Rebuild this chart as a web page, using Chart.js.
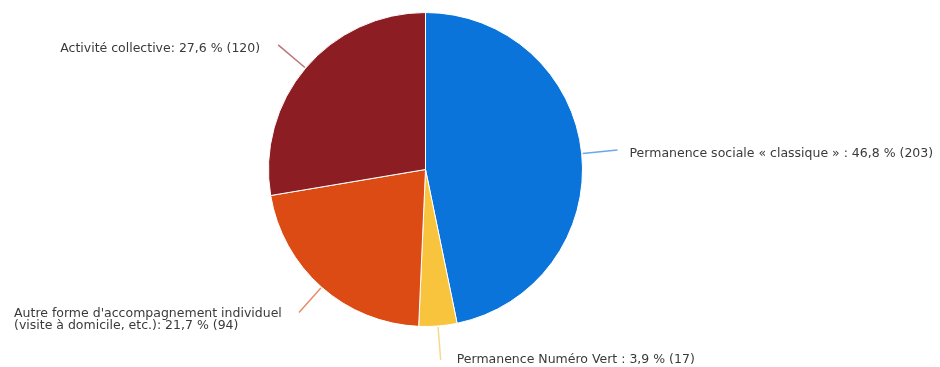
<!DOCTYPE html>
<html>
<head>
<meta charset="utf-8">
<script src="https://cdn.jsdelivr.net/npm/chart.js@4"></script>
<style>
  html, body { margin: 0; padding: 0; background: #fff; }
  #wrap { width: 940px; height: 367px; }
</style>
</head>
<body>
<div id="wrap"><canvas id="myChart" width="940" height="367"></canvas></div>
<script>
// data
const categories = [
  'Permanence sociale « classique »',
  'Permanence Numéro Vert',
  "Autre forme d'accompagnement individuel (visite à domicile, etc.)",
  'Activité collective'
];
const counts = [203, 17, 94, 120];
const percents = ['46,8', '3,9', '21,7', '27,6'];
const labelLines = [
  ['Permanence sociale « classique » : 46,8 % (203)'],
  ['Permanence Numéro Vert : 3,9 % (17)'],
  ["Autre forme d'accompagnement individuel", '(visite à domicile, etc.): 21,7 % (94)'],
  ['Activité collective: 27,6 % (120)']
];

const colors = ['#0b74da', '#f8c33d', '#dd4b14', '#8c1d23'];
const lineColors = ['#6aa9e6', '#f6d98c', '#e98c67', '#b9767a'];

// leader line length and text placement relative to the line end
const labelLayout = [
  { len: 36, dx: 12, dy: 4, align: 'left' },
  { len: 34, dx: 16, dy: 0, align: 'left' },
  { len: 34, dx: -285, dy: 7, align: 'left' },
  { len: 36, dx: -18, dy: 4, align: 'right' }
];

const leaderLabels = {
  id: 'leaderLabels',
  afterDatasetsDraw(chart) {
    const ctx = chart.ctx;
    const meta = chart.getDatasetMeta(0);
    ctx.save();
    ctx.font = '12.5px "DejaVu Sans", sans-serif';
    ctx.textBaseline = 'middle';
    meta.data.forEach((arc, i) => {
      const p = arc.getProps(['x', 'y', 'startAngle', 'endAngle', 'outerRadius'], true);
      const mid = (p.startAngle + p.endAngle) / 2;
      const lay = labelLayout[i];
      const x0 = p.x + Math.cos(mid) * (p.outerRadius + 1);
      const y0 = p.y + Math.sin(mid) * (p.outerRadius + 1);
      const x1 = p.x + Math.cos(mid) * (p.outerRadius + lay.len);
      const y1 = p.y + Math.sin(mid) * (p.outerRadius + lay.len);
      ctx.strokeStyle = lineColors[i];
      ctx.lineWidth = 1.5;
      ctx.beginPath();
      ctx.moveTo(x0, y0);
      ctx.lineTo(x1, y1);
      ctx.stroke();
      ctx.fillStyle = '#3a3a3a';
      ctx.textAlign = lay.align;
      const lines = labelLines[i];
      const lh = 12;
      const top = y1 + lay.dy - (lines.length - 1) * lh / 2;
      lines.forEach((t, k) => {
        ctx.fillText(t, x1 + lay.dx, top + k * lh);
      });
    });
    ctx.restore();
  }
};

new Chart(document.getElementById('myChart'), {
  type: 'pie',
  data: {
    labels: categories,
    datasets: [{
      data: counts,
      backgroundColor: colors,
      borderColor: '#ffffff',
      borderWidth: 1
    }]
  },
  options: {
    responsive: false,
    animation: false,
    radius: 157,
    layout: { padding: { left: 0, right: 89, top: 0, bottom: 28 } },
    plugins: {
      legend: { display: false },
      tooltip: { enabled: false }
    }
  },
  plugins: [leaderLabels]
});
</script>
</body>
</html>
